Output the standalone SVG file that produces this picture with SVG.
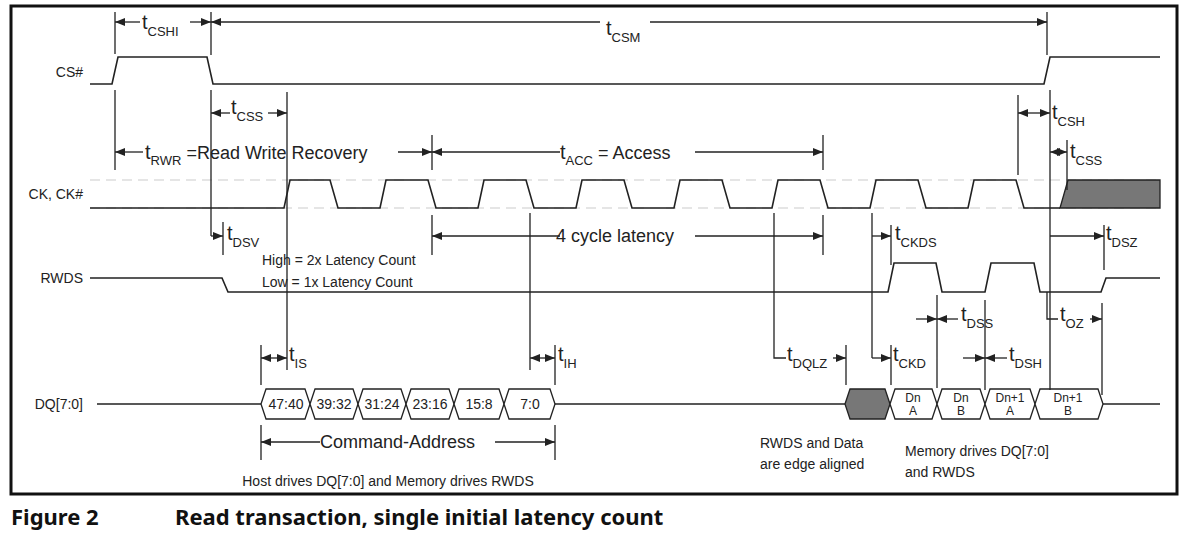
<svg xmlns="http://www.w3.org/2000/svg" width="1187" height="542" viewBox="0 0 1187 542">
<style>
.s{fill:none;stroke:#222;stroke-width:1.6}
.v{fill:none;stroke:#222;stroke-width:1.3}
.d{fill:none;stroke:#ccc;stroke-width:1.2;stroke-dasharray:10 6}
.a{fill:none;stroke:#222;stroke-width:1.3;marker-end:url(#ah)}
text{font-family:"Liberation Sans",Arial,sans-serif;fill:#222}
.lb{font-size:14px;text-anchor:end}
.t{font-size:18px}
.sub{font-size:13px}
.sm{font-size:14px}
.c{font-size:14px;text-anchor:middle}
.x{font-size:12px;text-anchor:middle}
.hx{fill:#fff;stroke:#222;stroke-width:1.3}
.cap{font-family:"Noto Sans",sans-serif;font-size:22px;font-weight:bold;fill:#111}
</style>
<defs>
<marker id="ah" markerWidth="10" markerHeight="8" refX="10" refY="4" orient="auto" markerUnits="userSpaceOnUse"><path d="M0,0 L10,4 L0,8 Z" fill="#222"/></marker>
</defs>
<rect x="11" y="6" width="1166" height="488" fill="#fff" stroke="#111" stroke-width="3"/>

<g id="labels">
<text class="lb" x="83" y="77">CS#</text>
<text class="lb" x="83" y="199">CK, CK#</text>
<text class="lb" x="83" y="283">RWDS</text>
<text class="lb" x="83" y="409">DQ[7:0]</text>
</g>

<g id="signals">
<path class="s" d="M90,84 H112 L118,57 H207 L213,84 H1044 L1050,57 H1160"/>
<line class="d" x1="90" y1="180" x2="1160" y2="180"/>
<line class="d" x1="90" y1="208" x2="1160" y2="208"/>
<path class="s" d="M90,208 H284 L290,180 H330 L338,208 H380 L386,180 H428 L436,208 H478 L484,180 H526 L534,208 H576 L582,180 H624 L632,208 H674 L680,180 H722 L730,208 H772 L778,180 H820 L828,208 H870 L876,180 H918 L926,208 H968 L974,180 H1016 L1024,208 H1060"/>
<path d="M1060,208 L1068,180 H1160 V208 Z" fill="#777" stroke="#222" stroke-width="1.3"/>
<path class="s" d="M90,278 H222 L228,292 H888 L894,263 H936 L942,292 H985 L991,263 H1034 L1040,292 H1101 L1106,278 H1160"/>
<path class="s" d="M97,404 H261 M555,404 H845 M1103,404 H1160"/>
</g>

<g id="dq">
<path class="hx" d="M261,404 L266,389 H305 L310,404 L305,419 H266 Z"/>
<path class="hx" d="M310,404 L315,389 H353 L358,404 L353,419 H315 Z"/>
<path class="hx" d="M358,404 L363,389 H401 L406,404 L401,419 H363 Z"/>
<path class="hx" d="M406,404 L411,389 H449 L454,404 L449,419 H411 Z"/>
<path class="hx" d="M454,404 L459,389 H499 L504,404 L499,419 H459 Z"/>
<path class="hx" d="M504,404 L509,389 H550 L555,404 L550,419 H509 Z"/>
<text class="c" x="286" y="409">47:40</text>
<text class="c" x="334" y="409">39:32</text>
<text class="c" x="382" y="409">31:24</text>
<text class="c" x="430" y="409">23:16</text>
<text class="c" x="479" y="409">15:8</text>
<text class="c" x="530" y="409">7:0</text>
<path d="M845,404 L850,389 H885 L890,404 L885,419 H850 Z" fill="#777" stroke="#222" stroke-width="1.3"/>
<path class="hx" d="M890,404 L895,389 H932 L937,404 L932,419 H895 Z"/>
<path class="hx" d="M937,404 L942,389 H980 L985,404 L980,419 H942 Z"/>
<path class="hx" d="M985,404 L990,389 H1030 L1035,404 L1030,419 H990 Z"/>
<path class="hx" d="M1035,404 L1040,389 H1098 L1103,404 L1098,419 H1040 Z"/>
<text class="x" x="913" y="402">Dn</text><text class="x" x="913" y="415">A</text>
<text class="x" x="961" y="402">Dn</text><text class="x" x="961" y="415">B</text>
<text class="x" x="1010" y="402">Dn+1</text><text class="x" x="1010" y="415">A</text>
<text class="x" x="1068" y="402">Dn+1</text><text class="x" x="1068" y="415">B</text>
</g>

<g id="connectors">
<path class="v" d="M115,12 V54 M211,12 V55 M1047,12 V55 M115,90 V170 M211,90 V236 M287,92 V370 M432,135 V170 M823,135 V170 M223,222 V255 M432,215 V255 M823,215 V255 M1018,95 V175 M1050,90 V390 M1067,140 V190 M891,225 V265 M1104,225 V270"/>
<path class="v" d="M261,345 V385 M555,345 V385 M530,213 V370 M774,213 V358 H786 M846,345 V385 M872,213 V358 M891,345 V385 M937,295 V388 M985,300 V390 M1047,292 V319 H1058 M1102,303 V395 M261,425 V460 M555,425 V460"/>
<line class="a" x1="140" y1="22" x2="115" y2="22"/>
<line class="a" x1="190" y1="22" x2="211" y2="22"/>
<line class="a" x1="600" y1="22" x2="211" y2="22"/>
<line class="a" x1="650" y1="22" x2="1047" y2="22"/>
<line class="a" x1="230" y1="113" x2="211" y2="113"/>
<line class="a" x1="268" y1="113" x2="287" y2="113"/>
<line class="a" x1="143" y1="152" x2="115" y2="152"/>
<line class="a" x1="398" y1="152" x2="432" y2="152"/>
<line class="a" x1="560" y1="152" x2="432" y2="152"/>
<line class="a" x1="695" y1="152" x2="823" y2="152"/>
<line class="a" x1="211" y1="236" x2="223" y2="236"/>
<line class="a" x1="560" y1="236" x2="432" y2="236"/>
<line class="a" x1="695" y1="236" x2="823" y2="236"/>
<line class="a" x1="872" y1="236" x2="891" y2="236"/>
<line class="a" x1="1034" y1="113" x2="1018" y2="113"/>
<line class="a" x1="1034" y1="113" x2="1050" y2="113"/>
<line class="a" x1="1058" y1="152" x2="1050" y2="152"/>
<line class="a" x1="1058" y1="152" x2="1067" y2="152"/>
<line class="a" x1="1050" y1="236" x2="1104" y2="236"/>
<line class="a" x1="916" y1="319" x2="937" y2="319"/>
<line class="a" x1="958" y1="319" x2="937" y2="319"/>
<line class="a" x1="1090" y1="319" x2="1102" y2="319"/>
<line class="a" x1="274" y1="358" x2="261" y2="358"/>
<line class="a" x1="274" y1="358" x2="287" y2="358"/>
<line class="a" x1="542" y1="358" x2="530" y2="358"/>
<line class="a" x1="542" y1="358" x2="555" y2="358"/>
<line class="a" x1="833" y1="358" x2="846" y2="358"/>
<line class="a" x1="872" y1="358" x2="891" y2="358"/>
<line class="a" x1="963" y1="358" x2="985" y2="358"/>
<line class="a" x1="1007" y1="358" x2="985" y2="358"/>
<line class="a" x1="320" y1="442" x2="261" y2="442"/>
<line class="a" x1="495" y1="442" x2="555" y2="442"/>
</g>

<g id="timing-labels">
<text class="t" x="142" y="29"><tspan font-size="20">t</tspan><tspan class="sub" dy="7">CSHI</tspan></text>
<text class="t" x="606" y="35"><tspan font-size="20">t</tspan><tspan class="sub" dy="7">CSM</tspan></text>
<text class="t" x="231" y="114"><tspan font-size="20">t</tspan><tspan class="sub" dy="7">CSS</tspan></text>
<text class="t" x="145" y="159"><tspan font-size="20">t</tspan><tspan class="sub" dy="6">RWR</tspan><tspan dy="-6"> =Read Write Recovery</tspan></text>
<text class="t" x="560" y="159"><tspan font-size="20">t</tspan><tspan class="sub" dy="6">ACC</tspan><tspan dy="-6"> = Access</tspan></text>
<text class="t" x="227" y="240"><tspan font-size="20">t</tspan><tspan class="sub" dy="7">DSV</tspan></text>
<text class="t" x="556" y="242">4 cycle latency</text>
<text class="sm" x="262" y="265">High = 2x Latency Count</text>
<text class="sm" x="262" y="287">Low =  1x Latency Count</text>
<text class="t" x="895" y="240"><tspan font-size="20">t</tspan><tspan class="sub" dy="7">CKDS</tspan></text>
<text class="t" x="1052" y="119"><tspan font-size="20">t</tspan><tspan class="sub" dy="7">CSH</tspan></text>
<text class="t" x="1070" y="158"><tspan font-size="20">t</tspan><tspan class="sub" dy="7">CSS</tspan></text>
<text class="t" x="1106" y="240"><tspan font-size="20">t</tspan><tspan class="sub" dy="7">DSZ</tspan></text>
<text class="t" x="961" y="321"><tspan font-size="20">t</tspan><tspan class="sub" dy="7">DSS</tspan></text>
<text class="t" x="1060" y="321"><tspan font-size="20">t</tspan><tspan class="sub" dy="7">OZ</tspan></text>
<text class="t" x="289" y="361"><tspan font-size="20">t</tspan><tspan class="sub" dy="7">IS</tspan></text>
<text class="t" x="558" y="361"><tspan font-size="20">t</tspan><tspan class="sub" dy="7">IH</tspan></text>
<text class="t" x="787" y="361"><tspan font-size="20">t</tspan><tspan class="sub" dy="7">DQLZ</tspan></text>
<text class="t" x="893" y="361"><tspan font-size="20">t</tspan><tspan class="sub" dy="7">CKD</tspan></text>
<text class="t" x="1009" y="361"><tspan font-size="20">t</tspan><tspan class="sub" dy="7">DSH</tspan></text>
<text class="t" x="320" y="448">Command-Address</text>
<text class="c" x="388" y="486">Host drives DQ[7:0] and Memory drives RWDS</text>
<text class="sm" x="760" y="448">RWDS and Data</text>
<text class="sm" x="760" y="469">are edge aligned</text>
<text class="sm" x="905" y="456">Memory drives DQ[7:0]</text>
<text class="sm" x="905" y="477">and RWDS</text>
</g>

<g id="caption">
<text class="cap" x="11" y="525">Figure 2</text>
<text class="cap" x="175" y="525">Read transaction, single initial latency count</text>
</g>
</svg>
